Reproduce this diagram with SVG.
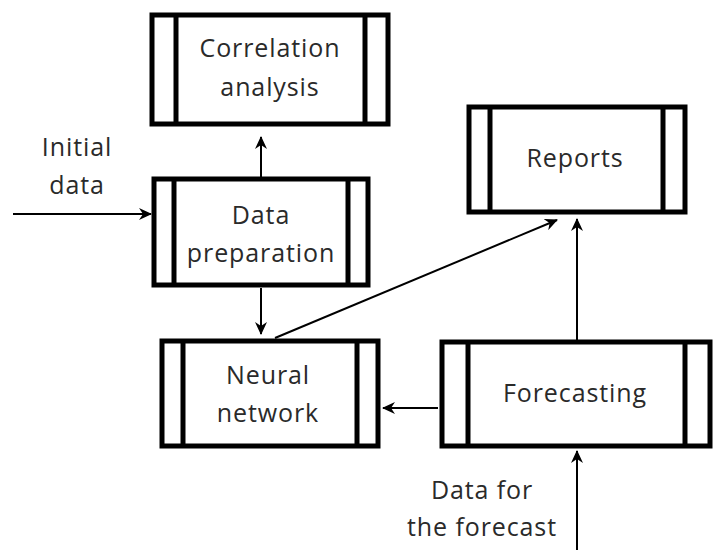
<svg xmlns="http://www.w3.org/2000/svg" width="714" height="550" viewBox="0 0 714 550">
<style>
.box{fill:#fff;stroke:#000;stroke-width:5}
.bar{stroke:#000;stroke-width:5}
.lbl{font-family:"Open Sans","Noto Sans",sans-serif;font-size:25px;letter-spacing:0.9px;fill:#2a2a2a;text-anchor:middle}
.conn{stroke:#000;stroke-width:2;fill:none;marker-end:url(#ah)}
</style>
<defs>
<marker id="ah" markerWidth="14" markerHeight="12" refX="12" refY="6" orient="auto" markerUnits="userSpaceOnUse">
<path d="M0,0 L13,6 L0,12 L4,6 Z" fill="#000"/>
</marker>
</defs>
<rect width="714" height="550" fill="#fff"/>
<g id="correlation">
<rect class="box" x="152" y="15" width="236" height="109"/>
<line class="bar" x1="176" y1="15" x2="176" y2="124"/>
<line class="bar" x1="365" y1="15" x2="365" y2="124"/>
<text class="lbl" x="270" y="57">Correlation</text>
<text class="lbl" x="270" y="96">analysis</text>
</g>
<g id="dataprep">
<rect class="box" x="154" y="179" width="214" height="106"/>
<line class="bar" x1="174" y1="179" x2="174" y2="285"/>
<line class="bar" x1="348" y1="179" x2="348" y2="285"/>
<text class="lbl" x="261" y="224">Data</text>
<text class="lbl" x="261" y="262">preparation</text>
</g>
<g id="neural">
<rect class="box" x="162" y="341" width="216" height="105"/>
<line class="bar" x1="183" y1="341" x2="183" y2="446"/>
<line class="bar" x1="357" y1="341" x2="357" y2="446"/>
<text class="lbl" x="268" y="384">Neural</text>
<text class="lbl" x="268" y="422">network</text>
</g>
<g id="reports">
<rect class="box" x="469" y="107" width="216" height="105"/>
<line class="bar" x1="490" y1="107" x2="490" y2="212"/>
<line class="bar" x1="663" y1="107" x2="663" y2="212"/>
<text class="lbl" x="575" y="167">Reports</text>
</g>
<g id="forecasting">
<rect class="box" x="442" y="342" width="268" height="104"/>
<line class="bar" x1="468" y1="342" x2="468" y2="446"/>
<line class="bar" x1="685" y1="342" x2="685" y2="446"/>
<text class="lbl" x="575" y="402">Forecasting</text>
</g>
<g id="labels">
<text class="lbl" x="77" y="156">Initial</text>
<text class="lbl" x="77" y="194">data</text>
<text class="lbl" x="482" y="499">Data for</text>
<text class="lbl" x="482" y="536">the forecast</text>
</g>
<g id="connectors">
<line class="conn" x1="13" y1="214" x2="151" y2="214"/>
<line class="conn" x1="261" y1="177" x2="261" y2="137"/>
<line class="conn" x1="261" y1="288" x2="261" y2="334"/>
<line class="conn" x1="275" y1="338" x2="557" y2="220"/>
<line class="conn" x1="577" y1="340" x2="577" y2="219"/>
<line class="conn" x1="438" y1="408" x2="383" y2="408"/>
<line class="conn" x1="577" y1="550" x2="577" y2="451"/>
</g>
</svg>
